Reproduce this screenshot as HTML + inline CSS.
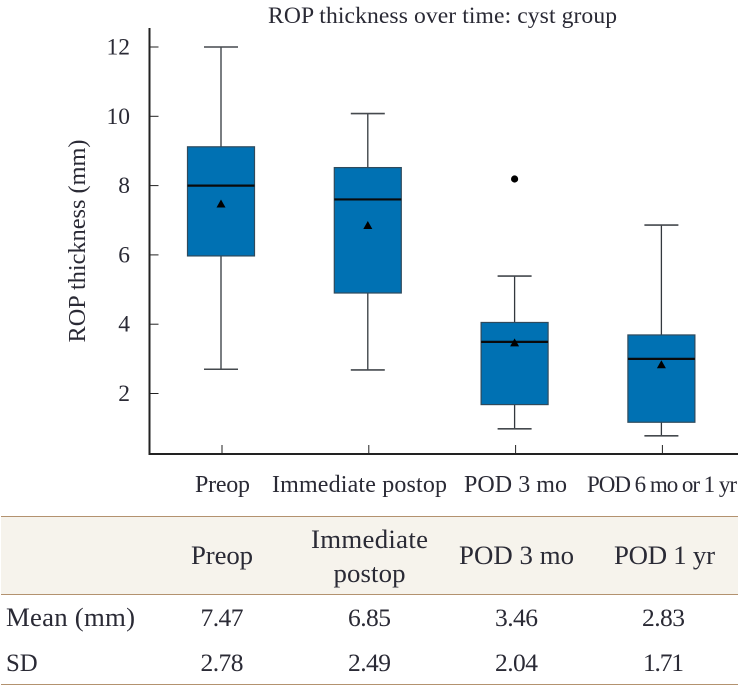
<!DOCTYPE html>
<html lang="en">
<head>
<meta charset="utf-8">
<title>ROP thickness over time: cyst group</title>
<style>
html,body{margin:0;padding:0;background:#fff;}
body{width:740px;height:686px;overflow:hidden;}
svg{display:block;}
text{font-family:"Liberation Serif",serif;fill:#2a2a35;}
</style>
</head>
<body>
<svg id="chart" width="740" height="686" viewBox="0 0 740 686" xmlns="http://www.w3.org/2000/svg">
  <text x="442.5" y="23" text-anchor="middle" font-size="23.6" textLength="349" lengthAdjust="spacing">ROP thickness over time: cyst group</text>
  <text transform="translate(85,241) rotate(-90)" text-anchor="middle" font-size="24.3" textLength="203" lengthAdjust="spacing">ROP thickness (mm)</text>
  <g id="plot"></g>

  <g>
    <rect x="1" y="516" width="737" height="78" fill="#f6f3ec"/>
    <line x1="1" x2="738" y1="516.5" y2="516.5" stroke="#b3926f" stroke-width="1"/>
    <line x1="1" x2="738" y1="594.5" y2="594.5" stroke="#b3926f" stroke-width="1"/>
    <line x1="1" x2="738" y1="684.5" y2="684.5" stroke="#b3926f" stroke-width="1"/>
    <g font-size="26.8" text-anchor="middle">
      <text x="222" y="564" textLength="62" lengthAdjust="spacing">Preop</text>
      <text x="369.5" y="548" textLength="117" lengthAdjust="spacing">Immediate</text>
      <text x="369.5" y="582" textLength="72" lengthAdjust="spacing">postop</text>
      <text x="516.5" y="564" textLength="115" lengthAdjust="spacing">POD 3 mo</text>
      <text x="664.5" y="564" textLength="101" lengthAdjust="spacing">POD 1 yr</text>
      <text x="222" y="626" textLength="43" font-size="25.5">7.47</text>
      <text x="369.5" y="626" textLength="43" font-size="25.5">6.85</text>
      <text x="516.5" y="626" textLength="43" font-size="25.5">3.46</text>
      <text x="663.5" y="626" textLength="43" font-size="25.5">2.83</text>
      <text x="222" y="671" textLength="43" font-size="25.5">2.78</text>
      <text x="369.5" y="671" textLength="43" font-size="25.5">2.49</text>
      <text x="516.5" y="671" textLength="43" font-size="25.5">2.04</text>
      <text x="663.5" y="671" textLength="41" font-size="25.5">1.71</text>
      <text x="6" y="626" text-anchor="start" textLength="129" lengthAdjust="spacing">Mean (mm)</text>
      <text x="6" y="671" text-anchor="start" font-size="24.8">SD</text>
    </g>
  </g>
</svg>
<script>
const categories = ['Preop', 'Immediate postop', 'POD 3 mo', 'POD 6 mo or 1 yr'];
const whiskerHigh = [12, 10.08, 5.39, 6.86];
const q3Values = [9.12, 8.52, 4.05, 3.69];
const medians = [8, 7.6, 3.49, 3];
const q1Values = [5.97, 4.9, 1.68, 1.17];
const whiskerLow = [2.7, 2.68, 0.98, 0.78];
const means = [7.47, 6.85, 3.46, 2.83];
const outliers = [[], [], [8.19], []];
const yTicks = [2, 4, 6, 8, 10, 12];

const NS = 'http://www.w3.org/2000/svg';
const plot = document.getElementById('plot');
const yOf = v => 47 + (12 - v) * 34.65;
const xOf = i => 221 + i * 146.8;
const BOX_W = 67, CAP_W = 34, AX_X = 149.5, AX_Y = 454;
const labelStyle = [
  {cx: 222.5, w: 55, fs: 24},
  {cx: 359.5, w: 175, fs: 24},
  {cx: 515.5, w: 103, fs: 24},
  {cx: 662, w: 150, fs: 23}
];

function add(tag, attrs, text) {
  const el = document.createElementNS(NS, tag);
  for (const k in attrs) el.setAttribute(k, attrs[k]);
  if (text !== undefined) el.textContent = text;
  plot.appendChild(el);
  return el;
}

yTicks.forEach(t => {
  const tick = add('line', {x1: AX_X, x2: AX_X + 9, y1: yOf(t), y2: yOf(t), stroke: '#222', 'stroke-width': 1});
  
  
  const lab = add('text', {x: 130, y: yOf(t) + 7.5, 'text-anchor': 'end', 'font-size': 23.5}, String(t));
  
  
});

categories.forEach((c, i) => {
  const x = xOf(i);
  const tick = add('line', {x1: x + 1, x2: x + 1, y1: AX_Y - 9, y2: AX_Y, stroke: '#222', 'stroke-width': 1});
  
  
  const ls = labelStyle[i];
  const lab = add('text', {x: ls.cx, y: 492, 'text-anchor': 'middle', 'font-size': ls.fs, textLength: ls.w, lengthAdjust: 'spacing'}, c);
  
  

  const stem = add('line', {x1: x, x2: x, y1: yOf(whiskerHigh[i]), y2: yOf(whiskerLow[i]), stroke: '#33383e', 'stroke-width': 1.3});
  
  
  [whiskerHigh[i], whiskerLow[i]].forEach(v => {
    const cap = add('line', {x1: x - CAP_W / 2, x2: x + CAP_W / 2, y1: yOf(v), y2: yOf(v), stroke: '#45494e', 'stroke-width': 1.6});
    
    
  });
  const box = add('rect', {x: x - BOX_W / 2, y: yOf(q3Values[i]), width: BOX_W, height: yOf(q1Values[i]) - yOf(q3Values[i]), fill: '#0071b3', stroke: '#2f4a5c', 'stroke-width': 1.2});
  
  
  const med = add('line', {x1: x - BOX_W / 2, x2: x + BOX_W / 2, y1: yOf(medians[i]), y2: yOf(medians[i]), stroke: '#0a0a0a', 'stroke-width': 2.2});
  
  
  const my = yOf(means[i]);
  const tri = add('path', {d: `M${x} ${my - 4.5}L${x + 4.5} ${my + 3.5}L${x - 4.5} ${my + 3.5}Z`, fill: '#000'});
  
  
  outliers[i].forEach(v => {
    const dot = add('circle', {cx: x, cy: yOf(v), r: 3.6, fill: '#000'});
    
    
  });
});

const yAxis = add('line', {x1: AX_X, x2: AX_X, y1: 28, y2: AX_Y + 1, stroke: '#222', 'stroke-width': 2});


const xAxis = add('line', {x1: AX_X - 1, x2: 738, y1: AX_Y, y2: AX_Y, stroke: '#222', 'stroke-width': 2});


</script>
</body>
</html>
